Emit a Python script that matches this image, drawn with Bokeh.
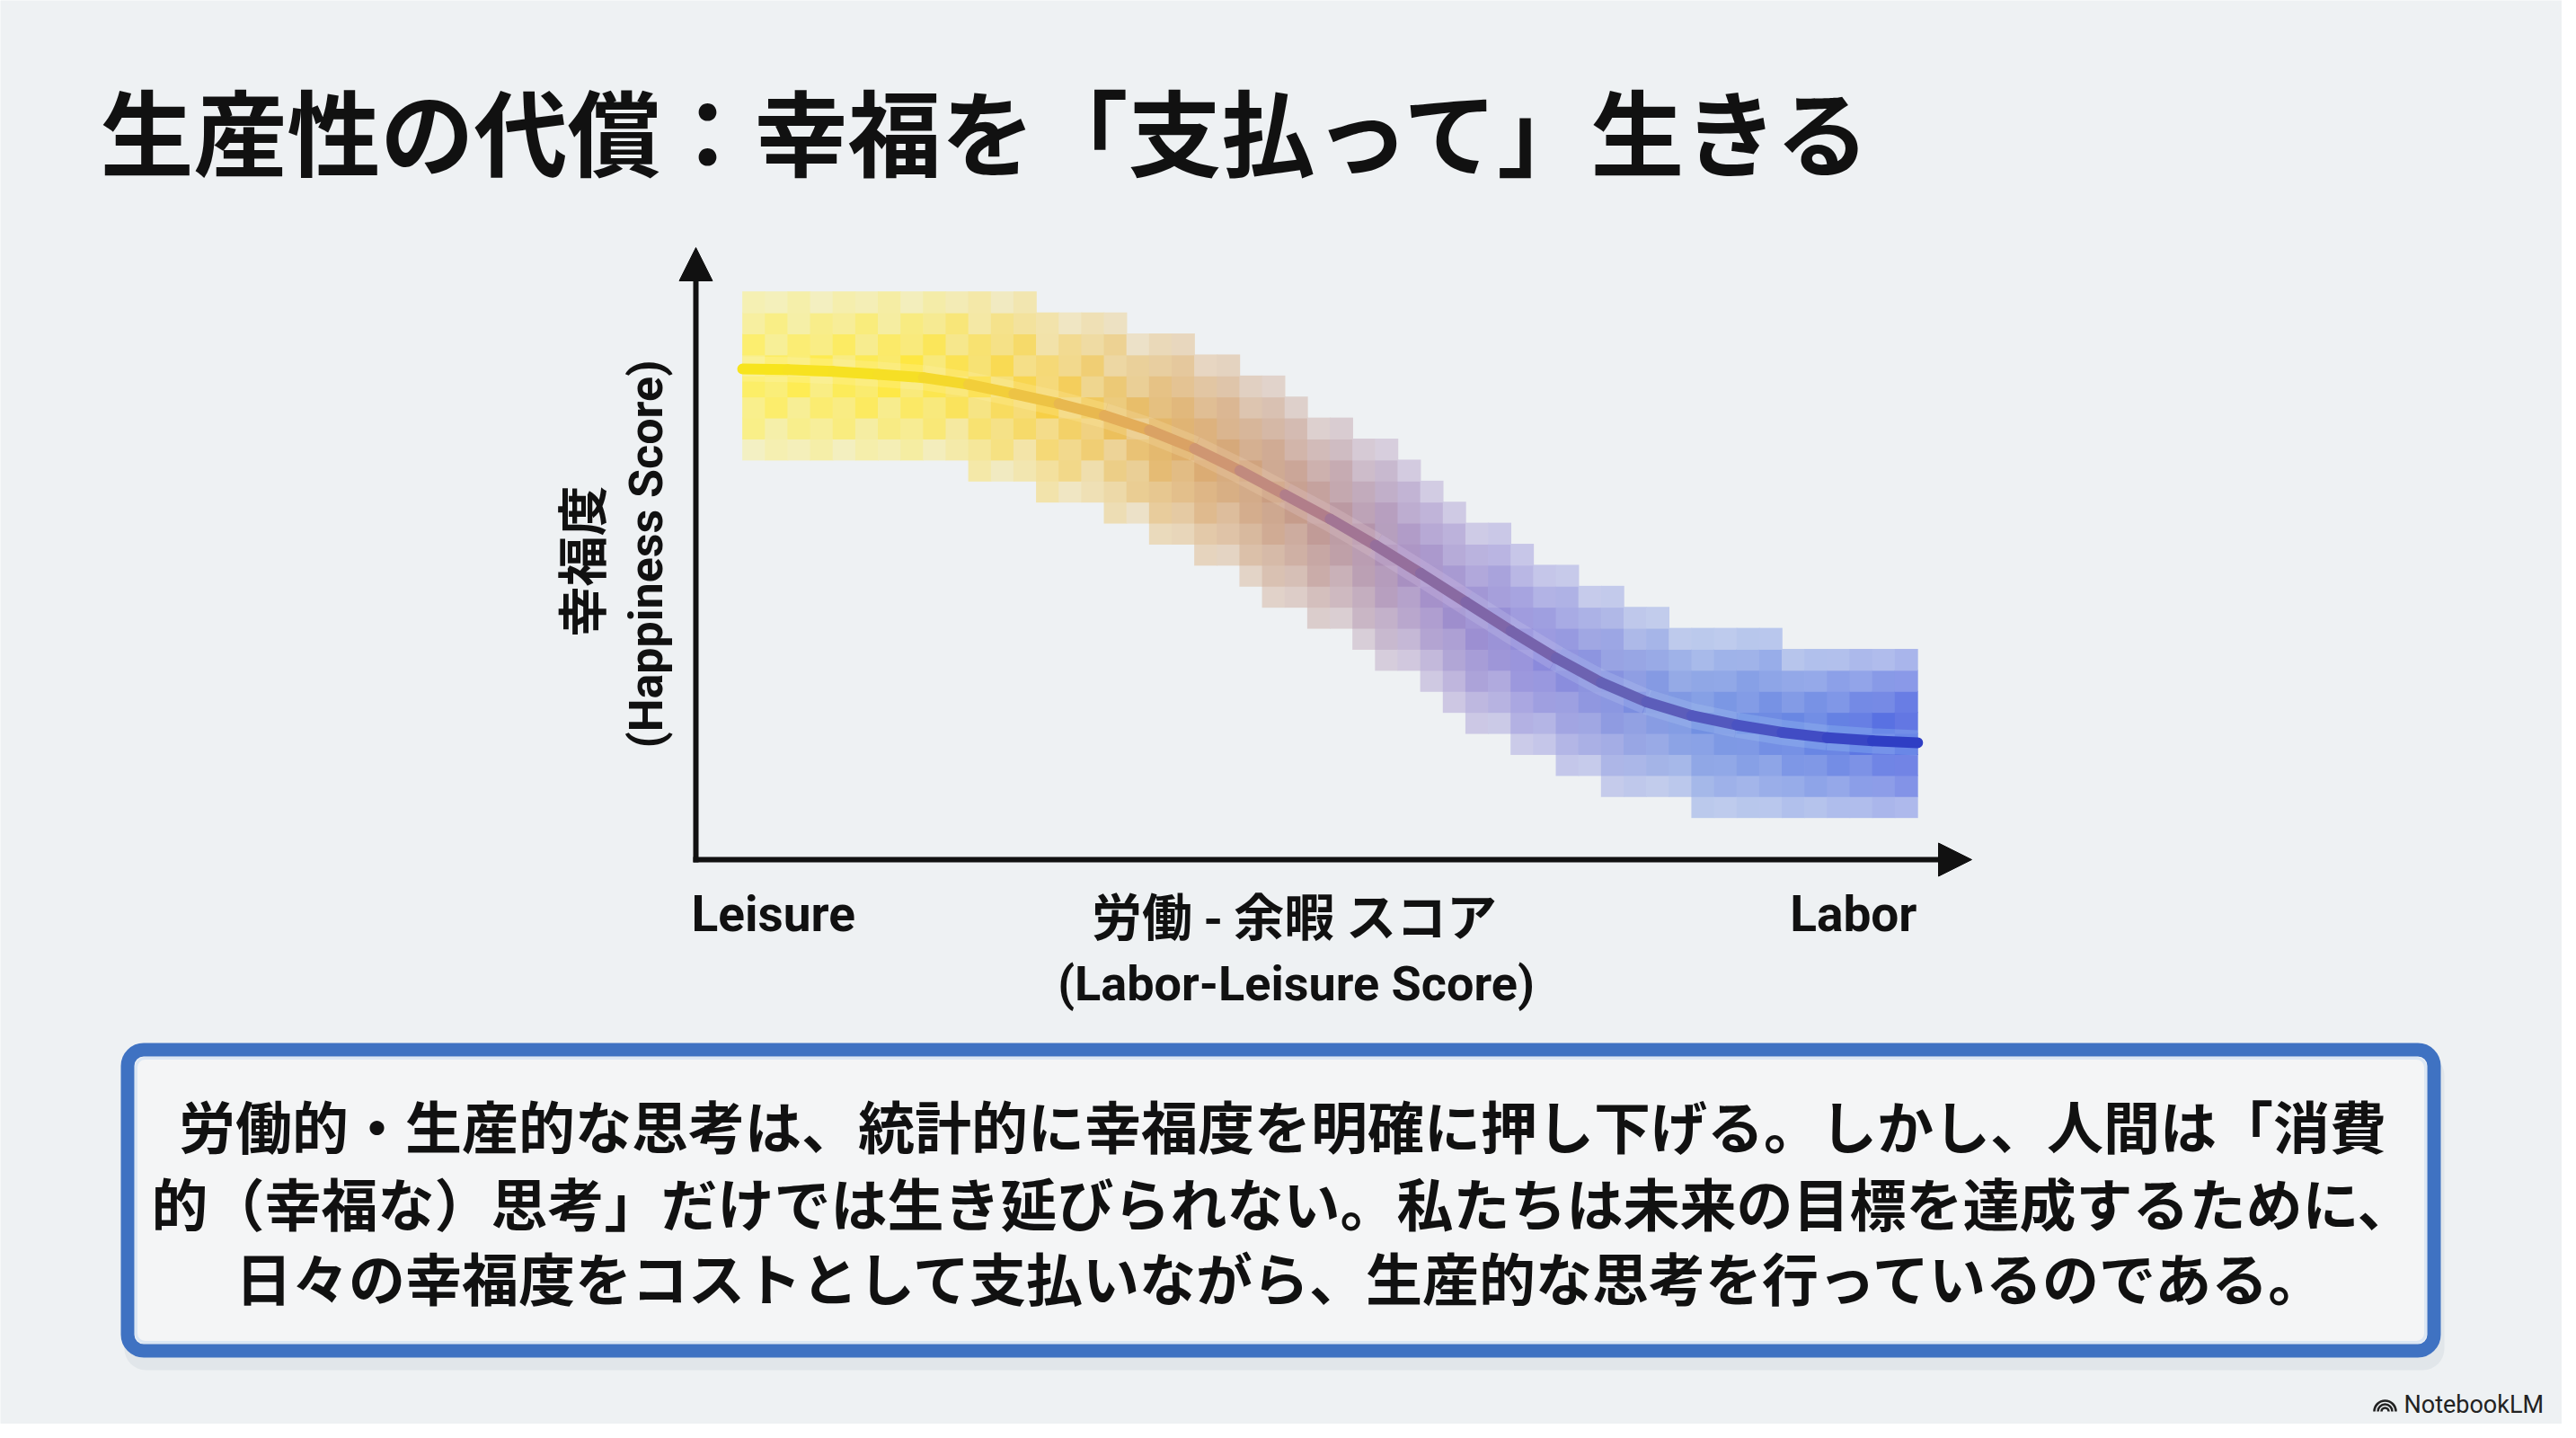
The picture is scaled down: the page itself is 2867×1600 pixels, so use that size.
import numpy as np
from bokeh.plotting import figure
from bokeh.models import Range1d, Label, Arrow, NormalHead, BoxAnnotation
from bokeh.embed import file_html
from bokeh.resources import INLINE

# ---------------- data ----------------
title_text = "生産性の代償：幸福を「支払って」生きる"
y_label_jp = "幸福度"
y_label_en = "(Happiness Score)"
x_label_jp = "労働 - 余暇 スコア"
x_label_en = "(Labor-Leisure Score)"
x_left_label = "Leisure"
x_right_label = "Labor"
body_lines = [
    "労働的・生産的な思考は、統計的に幸福度を明確に押し下げる。しかし、人間は「消費",
    "的（幸福な）思考」だけでは生き延びられない。私たちは未来の目標を達成するために、",
    "日々の幸福度をコストとして支払いながら、生産的な思考を行っているのである。",
]
brand = "NotebookLM"

# mean happiness curve (x: labor-leisure score in bin units, y: happiness in bin units)
curve_x = [0, 2, 4, 6, 8, 10, 12, 14, 16, 18, 20, 22, 24, 26,
           28, 30, 32, 34, 36, 38, 40, 42, 44, 46, 48, 50, 52]
curve_y = [23.33, 23.30, 23.22, 23.08, 22.92, 22.60, 22.15, 21.68, 21.12,
           20.42, 19.55, 18.50, 17.35, 16.20, 14.95, 13.62, 12.25, 10.88,
           9.58, 8.42, 7.50, 6.85, 6.40, 6.05, 5.80, 5.65, 5.56]

# density band: per score bin, lowest and highest occupied happiness bins
band_col = list(range(52))
band_low = [19] * 10 + [18] * 3 + [17] * 3 + [16] * 2 + [15] * 2 + [14] * 2 + [13] + \
           [12] * 2 + [11] * 2 + [10] + [9] * 2 + [8] + [7] + [6] * 2 + [5] * 2 + \
           [4] * 2 + [3] * 4 + [2] * 10
band_high = [27] * 13 + [26] * 4 + [25] * 3 + [24] * 2 + [23] * 2 + [22] + [21] * 2 + \
            [20] * 2 + [19] + [18] + [17] + [16] * 2 + [15] + [14] * 2 + [13] * 2 + \
            [12] * 2 + [11] * 5 + [10] * 6

# ---------------- styling helpers ----------------
BG = "#EEF1F3"
COLW, ROWH = 25.15, 23.4      # pixel size of one bin
X0PX, Y0PX = 834, 964         # page pixel of data origin
PAGE_X, PAGE_Y = 8, 8
W, H = 2851, 1584


def dx(X):
    return (X - X0PX) / COLW


def dy(Y):
    return (Y0PX - Y) / ROWH


def h2rgb(h):
    h = h.lstrip("#")
    return np.array([int(h[i:i + 2], 16) for i in (0, 2, 4)], dtype=float)


def rgb2h(c):
    c = np.clip(np.round(c), 0, 255).astype(int)
    return "#%02x%02x%02x" % tuple(c)


def interp(stops, t):
    ps = [s[0] for s in stops]
    cs = [h2rgb(s[1]) for s in stops]
    if t <= ps[0]:
        return cs[0]
    if t >= ps[-1]:
        return cs[-1]
    for i in range(len(ps) - 1):
        if ps[i] <= t <= ps[i + 1]:
            f = (t - ps[i]) / (ps[i + 1] - ps[i])
            return cs[i] * (1 - f) + cs[i + 1] * f


band_stops = [(0, "#FFEE50"), (8, "#FFE632"), (14, "#F7CC44"), (20, "#DCA864"),
              (25, "#C09488"), (30, "#A088C4"), (35, "#8884DA"), (42, "#7290E2"),
              (48, "#5878E2"), (52, "#465CE0")]
line_stops = [(0, "#F7E51C"), (8, "#F6DE26"), (12, "#F0C840"), (18, "#E0A85E"),
              (22, "#C99078"), (26, "#A97890"), (30, "#8E6CA0"), (34, "#7A64AA"),
              (40, "#6060B8"), (46, "#4650C4"), (52, "#2A3AC4")]
glow_stops = [(0, "#FFF9B8"), (14, "#FFF0A8"), (22, "#F2D8B8"), (30, "#DCC8EC"),
              (40, "#B4CCF4"), (52, "#9AD4F8")]

texture = [1.0, 0.78, 0.92, 0.68]
bg_rgb = h2rgb(BG)

cx, cy, ccol = [], [], []
for c, lo, hi in zip(band_col, band_low, band_high):
    center = (lo + hi) / 2.0
    half = (hi - lo) / 2.0
    base = interp(band_stops, c + 0.5)
    amp = 1.0 if c < 18 else 0.3
    for r in range(lo, hi):
        d = abs(r + 0.5 - center) / half
        a = 0.12 + 0.86 * (1 - d) ** 0.5
        tex = texture[(c * 3 + r * 5) % 4]
        a *= 1 - amp * (1 - tex)
        a = min(a, 1.0)
        cx.append(c + 0.5)
        cy.append(r + 0.5)
        ccol.append(rgb2h(base * a + bg_rgb * (1 - a)))

# ---------------- figure ----------------
p = figure(width=W, height=H, output_backend="svg", toolbar_location=None,
           x_axis_location=None, y_axis_location=None, min_border=0,
           x_range=Range1d(dx(PAGE_X), dx(PAGE_X + W)),
           y_range=Range1d(dy(PAGE_Y + H), dy(PAGE_Y)))
p.grid.visible = False
p.outline_line_color = None
p.background_fill_color = BG
p.border_fill_color = BG

# density cells
p.rect(x=cx, y=cy, width=1.03, height=1.04, fill_color=ccol, line_color=None)

# glow around curve (chunks of one colour each)
gx, gy, gc = [], [], []
for i in range(0, len(curve_x) - 1, 2):
    j = min(i + 2, len(curve_x) - 1)
    gx.append(curve_x[i:j + 1])
    gy.append(curve_y[i:j + 1])
    gc.append(rgb2h(interp(glow_stops, (curve_x[i] + curve_x[j]) / 2)))
p.multi_line(xs=gx, ys=gy, line_color=gc, line_width=28, line_alpha=0.25,
             line_join="round", line_cap="butt")

# mean curve with colour gradient
x0 = curve_x[:-1]
x1 = curve_x[1:]
y0 = curve_y[:-1]
y1 = curve_y[1:]
seg_col = [rgb2h(interp(line_stops, (a + b) / 2)) for a, b in zip(x0, x1)]
p.segment(x0=x0, y0=y0, x1=x1, y1=y1, line_color=seg_col, line_width=12,
          line_cap="round")

# axes arrows
AX = "#111111"
p.add_layout(Arrow(x_start=dx(782), y_start=dy(967), x_end=dx(782), y_end=dy(283),
                   line_color=AX, line_width=6,
                   end=NormalHead(size=37, fill_color=AX, line_color=AX, line_width=1)))
p.add_layout(Arrow(x_start=dx(779), y_start=dy(964), x_end=dx(2202), y_end=dy(964),
                   line_color=AX, line_width=6,
                   end=NormalHead(size=37, fill_color=AX, line_color=AX, line_width=1)))

JP = "Noto Sans CJK JP"
EN = "Roboto"

# title
p.add_layout(Label(x=dx(119), y=dy(151), text=title_text, text_font=JP,
                   text_font_style="bold", text_font_size="104px",
                   text_baseline="middle", text_align="left", text_color="#111111"))

# y labels
p.add_layout(Label(x=dx(652), y=dy(632), text=y_label_jp, text_font=JP,
                   text_font_style="bold", text_font_size="56px", angle=np.pi / 2,
                   text_baseline="middle", text_align="center", text_color="#111111"))
p.add_layout(Label(x=dx(727), y=dy(624), text=y_label_en, text_font=EN,
                   text_font_style="bold", text_font_size="52px", angle=np.pi / 2,
                   text_baseline="middle", text_align="center", text_color="#111111"))

# x labels
p.add_layout(Label(x=dx(777), y=dy(1024), text=x_left_label, text_font=EN,
                   text_font_style="bold", text_font_size="55px",
                   text_baseline="alphabetic", text_align="left", text_color="#111111"))
p.add_layout(Label(x=dx(2141), y=dy(1024), text=x_right_label, text_font=EN,
                   text_font_style="bold", text_font_size="55px",
                   text_baseline="alphabetic", text_align="right", text_color="#111111"))
p.add_layout(Label(x=dx(1448), y=dy(1024), text=x_label_jp, text_font=JP,
                   text_font_style="bold", text_font_size="56px",
                   text_baseline="middle", text_align="center", text_color="#111111"))
p.add_layout(Label(x=dx(1450), y=dy(1102), text=x_label_en, text_font=EN,
                   text_font_style="bold", text_font_size="54px",
                   text_baseline="alphabetic", text_align="center", text_color="#111111"))

# text box: shadow, box
p.add_layout(BoxAnnotation(left=dx(146), right=dx(2728), top=dy(1180), bottom=dy(1532),
                           fill_color="#7A8A9A", fill_alpha=0.10, line_color=None,
                           border_radius=24))
p.add_layout(BoxAnnotation(left=dx(149.5), right=dx(2716.5), top=dy(1175.5),
                           bottom=dy(1510.5), fill_color="#F4F5F6", fill_alpha=1.0,
                           line_color="#3F72C2", line_alpha=1.0, line_width=15,
                           border_radius=18))
p.add_layout(BoxAnnotation(left=dx(159), right=dx(2707), top=dy(1185),
                           bottom=dy(1501), fill_alpha=0.0,
                           line_color="#DCE7F4", line_alpha=1.0, line_width=3,
                           border_radius=10))

for txt, yy in zip(body_lines, [1258, 1344, 1427]):
    p.add_layout(Label(x=dx(1435), y=dy(yy), text=txt, text_font=JP,
                       text_font_style="bold", text_font_size="63px",
                       text_baseline="middle", text_align="center", text_color="#111111"))

# brand mark
p.arc(x=[dx(2662)] * 3, y=[dy(1578)] * 3, radius=[4, 8, 12], radius_units="screen",
      start_angle=0, end_angle=np.pi, line_color="#222222", line_width=2.6)
p.add_layout(Label(x=dx(2683), y=dy(1570), text=brand, text_font=EN,
                   text_font_size="27px", text_baseline="middle", text_align="left",
                   text_color="#222222"))

open("out.html", "w").write(file_html(p, INLINE))
